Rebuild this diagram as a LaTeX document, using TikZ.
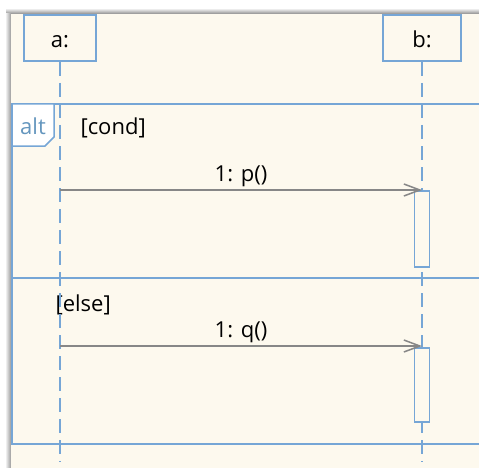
\documentclass[tikz,border=0pt]{standalone}
\usepackage{fontspec}
\setmainfont{Open Sans}
\usetikzlibrary{arrows.meta}
\definecolor{umlblue}{RGB}{118,166,214}
\definecolor{paper}{RGB}{253,249,238}
\definecolor{msggray}{RGB}{135,135,135}
\definecolor{alttext}{RGB}{100,150,190}
\tikzset{
  lifebox/.style={draw=umlblue,line width=2pt,fill=paper,minimum height=46pt,inner sep=0pt,text height=19pt,text depth=0pt},
  lifeline/.style={draw=umlblue,line width=1.5pt,dash pattern=on 14pt off 7pt},
  activation/.style={draw=umlblue,line width=1.8pt,fill=paper,minimum width=15pt,inner sep=0pt},
  message/.style={draw=msggray,line width=1.5pt,-{Straight Barb[length=16pt,width=12pt,line width=1.5pt]}},
  framecol/.style={draw=umlblue,line width=1.5pt}
}
\begin{document}
\begin{tikzpicture}[x=1pt,y=-1pt,font=\fontsize{22}{26}\selectfont]
            \useasboundingbox (0,0) rectangle (479,468);
            % window background with its shadow
            \fill[white] (0,0) rectangle (479,468);
            \shade[top color=white,bottom color=black!45] (6,8) rectangle (479,14);
            \shade[left color=white,right color=black!40] (5,14) rectangle (11,468);
            \fill[paper] (11,14) rectangle (479,468);
            % alt frame and its operands
            \draw[framecol] (479,104) -- (12,104) -- (12,444) -- (479,444);
            \draw[framecol] (12,278) -- (479,278);
            \draw[framecol,fill=white] (12,104) -- (54,104) -- (54,137) -- (45,146) -- (12,146) -- cycle;
            \draw (33,126) node[text=alttext] (alt) {alt};
            \draw (77,128) node[anchor=west] (cond) {[cond]};
            \draw (52,305) node[anchor=west] (else) {[else]};
            % objects and lifelines
            \draw (60,38) node[lifebox,minimum width=72pt] (a) {a:};
            \draw (422,38) node[lifebox,minimum width=78pt] (b) {b:};
            \coordinate (a end) at (60,462);
            \coordinate (b end) at (422,462);
            \draw[lifeline] (a) -- (a end);
            \draw[lifeline] (b) -- (b end);
            % activations on b
            \draw (422,229) node[activation,minimum height=76pt] (act1) {};
            \draw (422,385) node[activation,minimum height=74pt] (act2) {};
            % messages
            \coordinate (m1) at (60,190);
            \coordinate (m2) at (60,346);
            \draw[message] (m1) -- (m1 -| b) node[midway,above,inner sep=2pt] (p) {1: p()};
            \draw[message] (m2) -- (m2 -| b) node[midway,above,inner sep=2pt] (q) {1: q()};
        \end{tikzpicture}
\end{document}
